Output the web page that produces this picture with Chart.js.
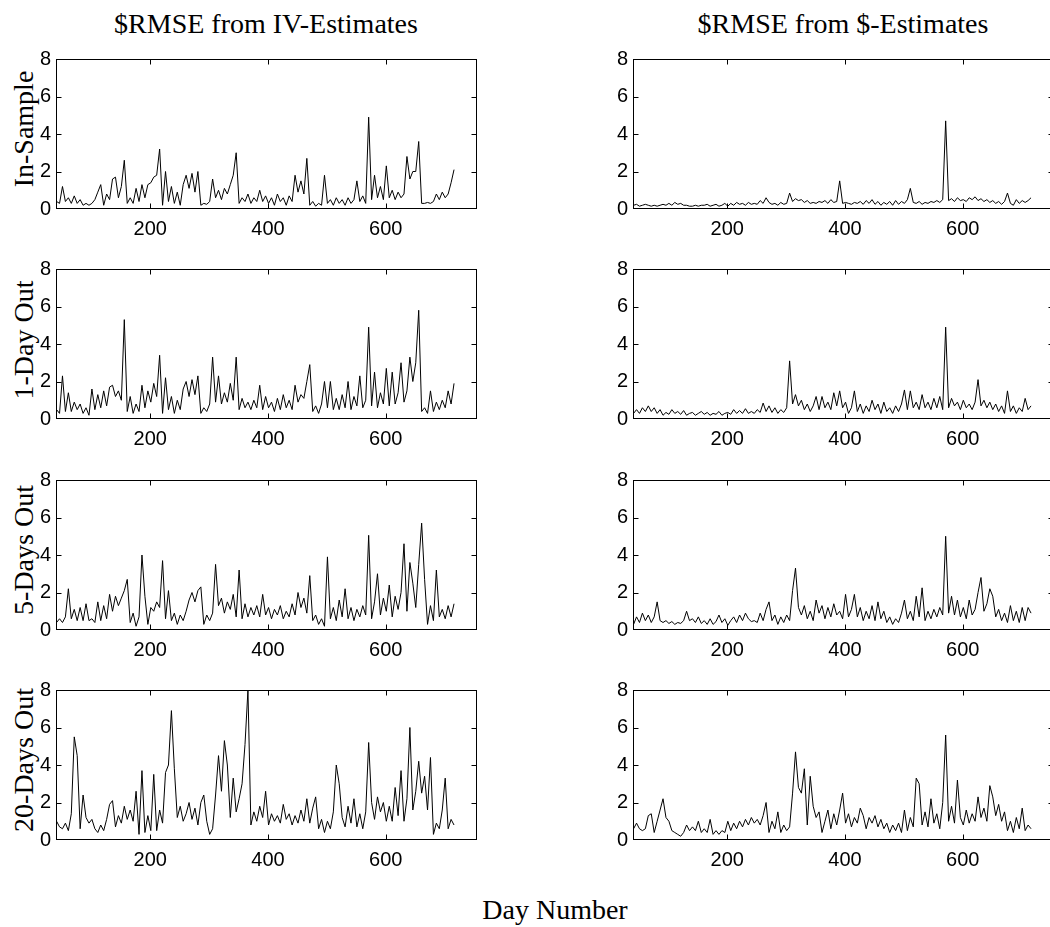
<!DOCTYPE html>
<html>
<head>
<meta charset="utf-8">
<script src="https://cdn.jsdelivr.net/npm/chart.js@4.4.1/dist/chart.umd.min.js"></script>
<style>
  html, body { margin: 0; padding: 0; background: #fff; }
  body { width: 1050px; height: 927px; position: relative; overflow: hidden; }
  .panel { position: absolute; }
  .txt { position: absolute; font-family: 'Liberation Serif', 'Times New Roman', serif; font-size: 28px; color: #000; white-space: nowrap; line-height: 28px; }
  .rowlab { transform: translate(-50%, -50%) rotate(-90deg); }
  .coltitle { transform: translateX(-50%); }
</style>
</head>
<body>

<div class="txt coltitle" style="left:266px; top:10px;">$RMSE from IV-Estimates</div>
<div class="txt coltitle" style="left:843px; top:10px;">$RMSE from $-Estimates</div>

<div class="txt rowlab" style="left:24px; top:129px;">In-Sample</div>
<div class="txt rowlab" style="left:24px; top:340px;">1-Day Out</div>
<div class="txt rowlab" style="left:24px; top:550px;">5-Days Out</div>
<div class="txt rowlab" style="left:24px; top:760px;">20-Days Out</div>

<div class="txt coltitle" style="left:555px; top:896px;">Day Number</div>

<canvas id="p1L" class="panel"></canvas>
<canvas id="p1R" class="panel"></canvas>
<canvas id="p2L" class="panel"></canvas>
<canvas id="p2R" class="panel"></canvas>
<canvas id="p3L" class="panel"></canvas>
<canvas id="p3R" class="panel"></canvas>
<canvas id="p4L" class="panel"></canvas>
<canvas id="p4R" class="panel"></canvas>

<script>
// day numbers (sampled every 5 days)
const days = [
  41,46,51,56,61,66,71,76,81,86,
  91,96,101,106,111,116,121,126,131,136,
  141,146,151,156,161,166,171,176,181,186,
  191,196,201,206,211,216,221,226,231,236,
  241,246,251,256,261,266,271,276,281,286,
  291,296,301,306,311,316,321,326,331,336,
  341,346,351,356,361,366,371,376,381,386,
  391,396,401,406,411,416,421,426,431,436,
  441,446,451,456,461,466,471,476,481,486,
  491,496,501,506,511,516,521,526,531,536,
  541,546,551,556,561,566,571,576,581,586,
  591,596,601,606,611,616,621,626,631,636,
  641,646,651,656,661,666,671,676,681,686,
  691,696,701,706,711,716
];

const xTicks = [200, 400, 600];
const yTicks = [0, 2, 4, 6, 8];
const innerTicksY = [2, 4, 6];

// In-Sample, IV-estimates
const inSampleIV = [
  0.4,0.3,1.2,0.4,0.6,0.3,0.7,0.3,0.5,0.2,
  0.3,0.2,0.3,0.5,0.9,1.3,0.2,0.8,0.5,1.6,
  1.7,0.6,1.2,2.6,0.3,0.6,0.3,1.1,0.4,1.3,
  0.6,1.3,1.4,1.7,1.8,3.2,0.2,2.0,0.4,1.2,
  0.3,0.9,0.2,1.3,1.8,1.1,1.9,0.9,2.0,0.2,
  0.3,0.25,0.4,1.6,0.6,1.0,0.5,1.1,0.8,1.3,
  1.8,3.0,0.3,0.6,0.4,0.8,0.3,0.6,0.4,1.0,
  0.4,0.7,0.3,0.6,0.2,0.8,0.4,0.6,0.2,0.7,
  0.4,1.8,0.9,1.5,0.8,2.7,0.2,0.4,0.15,0.3,
  0.2,1.8,0.3,0.5,0.2,0.6,0.3,0.5,0.2,0.6,
  0.3,0.5,1.5,0.4,0.7,0.3,4.9,0.5,1.8,0.6,
  1.2,0.5,2.3,0.6,1.0,0.5,0.9,0.6,0.8,2.8,
  1.6,2.0,2.0,3.6,0.3,0.3,0.35,0.3,0.4,0.8,
  0.5,0.9,0.6,0.8,1.4,2.1
];

// In-Sample, $-estimates
const inSampleD = [
  0.2,0.25,0.15,0.2,0.25,0.2,0.15,0.2,0.15,0.2,
  0.25,0.2,0.3,0.2,0.35,0.25,0.3,0.2,0.2,0.15,
  0.15,0.2,0.15,0.2,0.2,0.25,0.15,0.2,0.25,0.15,
  0.2,0.3,0.15,0.3,0.2,0.35,0.25,0.3,0.2,0.35,
  0.25,0.3,0.25,0.45,0.3,0.6,0.35,0.25,0.3,0.2,
  0.35,0.25,0.3,0.85,0.4,0.55,0.45,0.5,0.35,0.45,
  0.3,0.35,0.3,0.4,0.35,0.45,0.3,0.5,0.35,0.4,
  1.5,0.3,0.35,0.3,0.25,0.35,0.3,0.4,0.25,0.45,
  0.3,0.5,0.25,0.4,0.2,0.35,0.25,0.4,0.2,0.45,
  0.25,0.4,0.3,0.5,1.1,0.35,0.3,0.4,0.25,0.35,
  0.3,0.4,0.35,0.45,0.35,0.5,4.7,0.45,0.55,0.4,
  0.6,0.45,0.5,0.4,0.6,0.5,0.65,0.45,0.55,0.4,
  0.5,0.35,0.45,0.3,0.4,0.25,0.4,0.85,0.3,0.2,
  0.5,0.3,0.45,0.35,0.45,0.6
];

// 1-Day Out
const oneDayIV = [
  0.5,0.3,2.3,0.4,1.4,0.4,0.9,0.5,0.8,0.3,
  0.6,0.2,1.6,0.5,1.3,0.6,1.5,0.7,1.7,1.8,
  1.2,1.5,1.0,5.3,0.4,1.2,0.3,0.8,0.4,1.8,
  0.6,1.5,0.9,1.9,1.2,3.4,0.3,2.2,0.5,1.2,
  0.3,1.0,0.5,1.6,2.0,1.2,2.1,1.3,2.3,0.3,
  0.6,0.4,0.8,3.3,0.9,2.3,0.8,1.4,0.9,1.9,
  1.0,3.3,0.5,1.1,0.6,0.9,0.5,1.0,0.6,1.8,
  0.5,1.2,0.6,0.9,0.4,1.1,0.5,1.3,0.6,1.0,
  0.5,1.8,0.9,1.3,1.1,2.0,2.9,0.4,0.7,0.3,
  0.8,2.0,0.6,2.0,0.5,1.1,0.5,1.3,0.6,2.0,
  0.5,1.2,0.7,2.3,0.6,1.0,4.9,0.7,2.5,0.6,
  1.4,0.8,2.7,0.7,2.5,0.8,1.4,3.0,0.9,1.5,
  3.3,2.0,3.0,5.8,0.4,0.6,0.3,1.5,0.4,0.9,
  0.5,1.0,0.6,1.5,0.8,1.9
];

const oneDayD = [
  0.3,0.5,0.3,0.6,0.4,0.7,0.4,0.6,0.3,0.5,
  0.2,0.35,0.25,0.5,0.3,0.4,0.25,0.45,0.2,0.3,
  0.35,0.2,0.3,0.4,0.25,0.35,0.2,0.3,0.25,0.4,
  0.2,0.3,0.35,0.25,0.5,0.3,0.45,0.3,0.55,0.3,
  0.4,0.3,0.5,0.35,0.85,0.4,0.7,0.35,0.6,0.3,
  0.5,0.35,0.6,3.1,0.8,1.3,0.7,1.0,0.5,0.8,
  0.4,0.7,1.2,0.5,1.2,0.6,0.9,0.5,1.4,0.7,
  1.5,0.6,0.9,0.3,0.6,1.5,0.4,0.8,0.3,0.7,
  0.4,1.0,0.5,0.8,0.3,0.9,0.4,0.6,0.3,0.7,
  0.4,0.8,1.55,0.5,1.5,0.6,0.9,0.5,1.3,0.6,
  0.9,0.5,1.1,0.6,1.2,0.5,4.9,0.6,1.1,0.7,
  0.9,0.5,1.0,0.6,0.8,0.5,0.9,2.1,0.7,1.0,
  0.6,0.9,0.5,0.8,0.4,0.7,0.3,1.5,0.4,0.7,
  0.3,0.6,0.4,1.1,0.5,0.7
];

// 5-Days Out
const fiveDayIV = [
  0.4,0.6,0.4,0.7,2.2,0.6,1.1,0.5,1.2,0.5,
  1.4,0.5,0.6,0.4,1.5,0.5,1.3,0.6,1.9,1.0,
  1.8,1.3,1.7,2.1,2.7,0.4,0.9,0.2,0.7,4.0,
  1.8,0.3,1.2,1.0,1.5,1.2,3.7,0.6,2.1,0.5,
  0.9,0.3,0.8,0.5,1.0,1.6,2.0,1.5,2.1,2.3,
  0.3,0.8,0.5,0.9,3.5,1.3,1.7,0.9,1.5,1.1,
  1.9,0.7,3.2,0.6,1.4,0.7,1.2,0.8,1.3,0.7,
  1.9,0.8,1.2,0.6,1.1,0.8,1.3,0.6,1.0,0.7,
  1.4,0.8,2.0,1.2,1.7,0.9,2.9,0.5,0.8,0.3,
  0.6,0.2,3.9,0.6,1.2,0.5,1.6,0.7,2.2,0.6,
  1.2,0.5,1.1,0.7,1.3,0.8,5.05,0.6,1.5,3.0,
  0.8,1.7,1.0,2.4,0.7,1.8,1.1,2.0,4.6,1.0,
  3.6,2.5,1.2,3.5,5.7,2.7,0.3,1.3,0.5,3.2,
  0.7,1.1,0.6,1.3,0.7,1.4
];

const fiveDayD = [
  0.3,0.7,0.4,0.9,0.5,0.8,0.4,0.7,1.5,0.5,
  0.4,0.5,0.35,0.45,0.3,0.4,0.35,0.5,1.0,0.5,
  0.6,0.4,0.7,0.35,0.5,0.3,0.6,0.3,0.45,0.8,
  0.4,0.6,0.25,0.5,0.7,0.4,0.8,0.5,0.9,0.6,
  0.45,0.5,0.4,0.9,0.5,1.1,1.5,0.5,0.8,0.3,
  0.7,0.4,0.8,0.5,2.1,3.3,1.2,0.8,1.3,0.6,
  1.0,0.5,1.6,0.9,1.3,0.6,1.2,0.7,1.4,0.8,
  1.0,0.6,1.9,0.7,1.1,1.9,0.7,1.2,0.5,1.0,
  0.6,1.3,0.5,1.5,0.6,1.0,0.4,0.7,0.3,0.6,
  0.4,0.9,1.6,0.6,1.0,0.5,1.8,0.7,2.25,0.5,
  1.0,0.6,1.1,0.7,1.2,0.8,5.0,0.9,1.8,0.8,
  1.6,0.7,1.2,0.6,1.6,0.8,1.1,2.0,2.8,1.0,
  1.4,2.2,1.8,0.7,1.1,0.5,0.9,0.4,1.3,0.5,
  1.0,0.4,1.2,0.5,1.2,0.9
];

// 20-Days Out
const twentyDayIV = [
  1.0,0.7,0.6,0.9,0.5,1.4,5.5,4.5,0.6,2.4,
  1.2,0.9,1.1,0.6,0.4,0.8,0.5,1.1,1.9,2.1,
  0.7,1.3,0.9,1.8,1.1,1.6,1.0,2.6,0.3,3.7,
  0.4,1.3,0.5,3.5,0.5,1.6,0.9,3.6,4.0,6.9,
  3.8,1.2,1.8,1.0,1.4,2.0,1.1,1.7,0.8,2.0,
  2.4,1.0,0.3,0.6,2.4,4.5,2.6,5.3,4.0,1.2,
  3.3,1.5,2.2,3.0,5.1,8.0,0.8,1.5,1.0,1.8,
  1.2,2.6,0.8,1.4,1.0,1.3,0.9,1.9,1.1,1.4,
  0.8,1.3,0.9,1.6,1.0,2.2,0.9,1.7,2.3,0.6,
  1.1,0.4,1.0,0.6,1.5,4.0,3.0,1.2,0.7,1.8,
  0.9,2.2,0.7,1.4,0.6,1.5,5.2,2.0,1.1,2.3,
  1.5,2.0,1.0,1.8,1.0,2.8,1.3,3.7,1.0,2.2,
  6.0,1.6,2.6,4.2,2.5,3.4,1.6,4.4,0.3,0.9,
  0.6,1.6,3.3,0.6,1.1,0.8
];

const twentyDayD = [
  0.6,0.9,0.6,0.5,0.6,1.3,1.4,0.4,1.0,1.6,
  2.2,1.2,1.0,0.5,0.4,0.3,0.2,0.4,0.8,0.5,
  0.7,0.5,1.0,0.4,0.6,0.4,1.1,0.3,0.5,0.3,
  0.5,0.4,1.0,0.5,0.9,0.6,1.0,0.7,1.1,0.8,
  1.2,0.9,1.1,0.8,1.3,2.0,0.4,1.0,0.6,1.5,
  0.4,0.8,0.5,0.7,2.5,4.7,2.8,2.5,3.8,0.8,
  3.4,1.8,1.2,1.5,0.4,1.0,1.6,0.6,1.4,0.8,
  1.6,2.5,0.9,1.4,0.7,1.2,0.9,1.7,1.3,0.6,
  1.2,0.9,1.3,0.7,1.1,0.6,0.9,0.4,0.8,0.5,
  0.9,0.4,1.6,0.5,1.2,0.7,3.3,3.0,0.8,1.5,
  0.7,2.2,0.9,1.4,0.6,2.0,5.6,1.0,1.8,0.9,
  3.2,1.2,0.8,1.6,0.9,1.4,1.0,2.3,1.2,1.7,
  1.0,2.9,2.3,1.3,1.9,1.0,1.5,0.5,1.0,0.4,
  1.2,0.6,1.7,0.5,0.8,0.6
];

// panel plot-area geometry (page pixels)
const PLOT_W = 421, PLOT_H = 159;
const LEFT_Y = 60, PAD = 8, BOTTOM_X = 40;
const colLeft = [56, 633];
const rowTop = [50, 260, 471, 681];

// box around the plot area with matlab style inward ticks
const boxTicks = {
  id: 'boxTicks',
  afterDraw(chart) {
    const { ctx, chartArea: a, scales } = chart;
    const l = Math.round(a.left) + 0.5, r = Math.round(a.right) - 0.5;
    const t = Math.round(a.top) + 0.5, b = Math.round(a.bottom) - 0.5;
    ctx.save();
    ctx.strokeStyle = '#000';
    ctx.lineWidth = 1;
    ctx.strokeRect(l, t, r - l, b - t);
    ctx.beginPath();
    xTicks.forEach(v => {
      const px = Math.round(scales.x.getPixelForValue(v)) + 0.5;
      ctx.moveTo(px, b); ctx.lineTo(px, b - 5);
      ctx.moveTo(px, t); ctx.lineTo(px, t + 5);
    });
    innerTicksY.forEach(v => {
      const py = Math.round(scales.y.getPixelForValue(v)) + 0.5;
      ctx.moveTo(l, py); ctx.lineTo(l + 5, py);
      ctx.moveTo(r, py); ctx.lineTo(r - 5, py);
    });
    ctx.stroke();
    ctx.restore();
  }
};

function makePanel(id, values, col, row) {
  const cv = document.getElementById(id);
  const w = LEFT_Y + PLOT_W + PAD, h = PAD + PLOT_H + BOTTOM_X;
  cv.width = w; cv.height = h;
  cv.style.left = (colLeft[col] - LEFT_Y) + 'px';
  cv.style.top = (rowTop[row] - PAD) + 'px';
  cv.style.width = w + 'px'; cv.style.height = h + 'px';

  const tickFont = { family: "'Liberation Sans', Arial, sans-serif", size: 20 };

  new Chart(cv.getContext('2d'), {
    type: 'line',
    data: {
      datasets: [{
        data: days.map((d, i) => ({ x: d, y: values[i] })),
        borderColor: '#000',
        borderWidth: 1,
        pointRadius: 0,
        tension: 0,
        fill: false
      }]
    },
    options: {
      responsive: false,
      animation: false,
      devicePixelRatio: 1,
      events: [],
      layout: { padding: { top: PAD, right: PAD, left: 0, bottom: 0 } },
      plugins: { legend: { display: false }, tooltip: { enabled: false } },
      scales: {
        x: {
          type: 'linear', min: 40, max: 755,
          afterBuildTicks: s => { s.ticks = xTicks.map(v => ({ value: v })); },
          afterFit: s => { s.height = BOTTOM_X; },
          grid: { display: false, drawTicks: false },
          border: { display: false },
          ticks: { color: '#000', font: tickFont, padding: 8, maxRotation: 0 }
        },
        y: {
          min: 0, max: 8,
          afterBuildTicks: s => { s.ticks = yTicks.map(v => ({ value: v })); },
          afterFit: s => { s.width = LEFT_Y; },
          grid: { display: false, drawTicks: false },
          border: { display: false },
          ticks: { color: '#000', font: tickFont, padding: 5 }
        }
      }
    },
    plugins: [boxTicks]
  });
}

makePanel('p1L', inSampleIV, 0, 0);
makePanel('p1R', inSampleD, 1, 0);
makePanel('p2L', oneDayIV, 0, 1);
makePanel('p2R', oneDayD, 1, 1);
makePanel('p3L', fiveDayIV, 0, 2);
makePanel('p3R', fiveDayD, 1, 2);
makePanel('p4L', twentyDayIV, 0, 3);
makePanel('p4R', twentyDayD, 1, 3);
</script>
</body>
</html>
